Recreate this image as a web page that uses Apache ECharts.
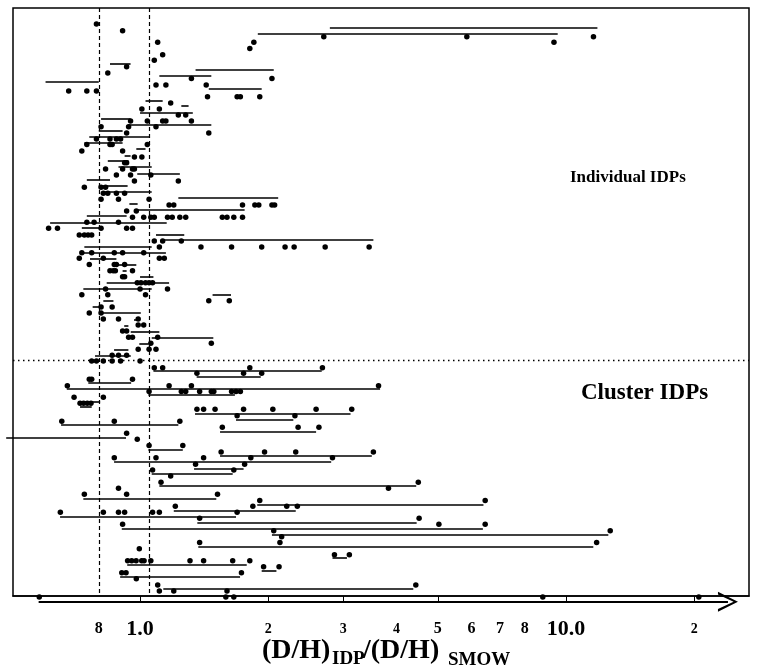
<!DOCTYPE html>
<html><head><meta charset="utf-8">
<script src="https://cdn.jsdelivr.net/npm/echarts@6/dist/echarts.min.js"></script>
<style>html,body{margin:0;padding:0;background:#fff}#c{width:758px;height:671px}</style>
</head><body><div id="c"></div>
<script>
// ---- data: rows are particle positions (top = 0), x = (D/H)IDP/(D/H)SMOW ----
const indivDots = [
  [2.67,[0.79]],[3.78,[0.91]],[4.78,[2.70,5.85,11.6]],[5.72,[1.10,1.85,9.37]],[6.75,[1.81]],
  [7.78,[1.13]],[8.72,[1.08]],[9.78,[0.93]],[10.83,[0.84]],[11.75,[1.32,2.04]],
  [12.83,[1.09,1.15,1.43]],[13.83,[0.68,0.75,0.79]],[14.78,[1.44,1.69,1.72,1.91]],[15.83,[1.18]],
  [16.83,[1.01,1.11]],[17.83,[1.23,1.28]],[18.83,[0.95,1.04,1.13,1.15,1.32]],[19.8,[0.81,0.94,1.09]],
  [20.83,[0.93,1.45]],[21.83,[0.79,0.85,0.88,0.90]],[22.75,[0.75,0.85,0.86,1.04]],[23.83,[0.73,0.91]],
  [24.83,[0.97,1.01]],[25.78,[0.92,0.93]],[26.83,[0.83,0.91,0.96,0.97]],[27.83,[0.88,0.95,1.06]],
  [28.83,[0.97,1.23]],[29.88,[0.74,0.81,0.83]],[30.88,[0.82,0.84,0.88,0.92]],[31.88,[0.81,0.89,1.05]],
  [32.83,[1.17,1.20,1.74,1.86,1.90,2.04,2.07]],[33.83,[0.93,0.98]],
  [34.88,[0.96,1.02,1.06,1.08,1.16,1.19,1.24,1.28,1.56,1.60,1.66,1.74]],[35.72,[0.75,0.78,0.89]],
  [36.72,[0.61,0.64,0.81,0.93,0.96]],[37.83,[0.72,0.74,0.755,0.77]],[38.83,[1.08,1.13,1.25]],
  [39.83,[1.11,1.39,1.64,1.93,2.19,2.30,2.72,3.45]],[40.78,[0.73,0.77,0.87,0.91,1.02]],
  [41.72,[0.72,0.82,1.11,1.14]],[42.75,[0.76,0.87,0.88,0.92]],[43.78,[0.85,0.865,0.875,0.96]],
  [44.78,[0.91,0.92]],[45.78,[0.985,1.005,1.03,1.05,1.07]],[46.83,[0.83,1.00,1.16]],
  [47.78,[0.73,0.84,1.03]],[48.78,[1.45,1.62]],[49.83,[0.81,0.86]],[50.83,[0.76,0.81]],
  [51.83,[0.82,0.89,0.99]],[52.83,[0.99,1.02]],[53.83,[0.91,0.93]],[54.88,[0.94,0.96,1.10]],
  [55.88,[1.06,1.47]],[56.88,[0.99,1.05,1.09]],[57.88,[0.86,0.89,0.93]]
];
const clusterDots = [
  [58.83,[0.77,0.79,0.82,0.86,0.90,1.00]],[59.95,[1.08,1.13,1.81,2.68]],[60.88,[1.36,1.75,1.93]],
  [61.88,[0.76,0.77,0.96]],[62.95,[0.675,1.17,1.32,3.63]],
  [63.92,[1.05,1.25,1.28,1.38,1.47,1.49,1.64,1.68,1.72]],[64.88,[0.70,0.82]],
  [65.88,[0.723,0.737,0.752,0.767]],[66.88,[1.36,1.41,1.50,1.75,2.05,2.59,3.14]],[67.95,[1.69,2.31]],
  [68.88,[0.655,0.87,1.24]],[69.88,[1.56,2.35,2.63]],[70.88,[0.93]],[71.88,[0.985]],
  [72.92,[1.05,1.26]],[74.0,[1.55,1.96,2.32,3.53]],[74.95,[0.87,1.09,1.41,1.82,2.83]],
  [76.05,[1.35,1.76]],[77.0,[1.07,1.66]],[78.0,[1.18]],[79.05,[1.12,4.50]],[80.05,[0.89,3.83]],
  [81.05,[0.74,0.93,1.52]],[82.08,[1.91,6.46]],[83.05,[1.21,1.84,2.21,2.34]],
  [84.05,[0.65,0.82,0.89,0.92,1.07,1.11,1.69]],[85.05,[1.38,4.52]],[86.05,[0.91,5.03,6.46]],
  [87.12,[2.06,12.7]],[88.12,[2.15]],[89.08,[1.38,2.13,11.8]],[90.12,[0.996]],[91.12,[2.86,3.10]],
  [92.12,[0.935,0.956,0.979,1.009,1.022,1.06,1.31,1.41,1.65,1.81]],[93.12,[1.95,2.12]],
  [94.12,[0.906,0.927,1.73]],[95.12,[0.98]],[96.17,[1.10,4.44]],[97.17,[1.11,1.20,1.60]],
  [98.17,[0.58,1.59,1.66,8.82,20.5]]
];
// [row, low, high]
const indivRanges = [
  [3.28,2.79,11.85],[4.22,1.89,9.56],[9.33,0.85,0.95],[10.33,1.35,2.06],[11.33,1.11,1.47],
  [12.33,0.60,0.80],[13.38,1.45,1.93],[15.45,1.03,1.13],[16.33,1.25,1.30],[17.38,1.00,1.33],
  [18.45,0.81,0.95],[19.45,0.94,1.47],[20.45,0.80,0.91],[21.45,0.76,1.05],[22.45,0.74,0.91],
  [23.5,0.98,1.03],[24.55,0.92,0.95],[25.5,0.84,0.94],[26.5,0.89,1.065],[27.55,0.985,1.24],
  [28.58,0.75,0.85],[29.62,0.80,0.935],[30.62,0.82,1.065],[31.62,1.23,2.11],[32.67,0.944,0.987],
  [33.62,0.987,1.76],[34.62,0.75,0.93],[35.72,0.615,1.155],[36.62,0.73,0.806],[37.72,1.09,1.27],
  [38.67,1.13,3.53],[39.72,0.74,1.065],[40.72,0.723,1.15],[41.72,0.763,0.88],[42.72,0.866,0.98],
  [43.78,0.91,0.93],[44.78,1.00,1.075],[45.78,0.835,1.17],[46.83,0.736,1.065],[47.78,1.48,1.635],
  [48.78,0.82,0.866],[49.83,0.774,0.813],[50.83,0.813,1.004],[52.0,0.968,0.996],[52.95,0.918,0.939],
  [53.88,0.951,1.11],[54.95,1.065,1.486],[55.95,0.996,1.046],[57.0,0.869,0.939],[57.95,0.784,0.951]
];
const clusterRanges = [
  [60.45,1.075,2.67],[61.45,1.358,1.92],[62.5,0.756,0.953],[63.5,0.673,3.66],[64.5,1.046,1.67],
  [65.62,0.716,0.806],[66.45,0.723,0.77],[67.55,1.346,3.12],[68.55,1.68,2.29],[69.5,0.6525,1.23],
  [70.62,1.541,2.59],[71.62,0.485,0.927],[73.67,1.046,1.26],[74.67,1.541,3.50],[75.67,0.869,2.81],
  [76.72,1.339,1.75],[77.67,1.065,1.65],[79.63,1.11,4.45],[81.78,0.736,1.51],[82.75,1.884,6.40],
  [83.78,1.20,2.32],[84.78,0.649,1.68],[85.75,1.363,4.46],[86.75,0.906,6.38],[87.8,2.04,12.57],
  [89.78,1.37,11.59],[91.55,2.83,3.06],[92.83,0.933,1.78],[93.83,1.93,2.09],[94.78,0.898,1.717],
  [96.83,1.134,4.38]
];
const arrowRange = [98.95, 0.578, 24.0];
const refLines = [0.797, 1.05];
const groupDivider = 58.67;
const tickValues = [1, 2, 3, 5, 10, 20];
const labelValues = [0.8, 1, 2, 3, 4, 5, 6, 7, 8, 10, 20];
const labelTexts = ['8', '1.0', '2', '3', '4', '5', '6', '7', '8', '10.0', '2'];
const rowCount = 98;
const xMin = 0.5032, xMax = 26.89;

// ---- styling (kept apart from data) ----
const labelStyleKeys = ['m', 'b', 's', 's', 's', 'm', 'm', 'm', 'm', 'b', 's'];
const serif = "'Liberation Serif','DejaVu Serif',serif";
const chevron = 'path://M5,0 L10,10 L8.6,10 L5,2.2 L1.4,10 L0,10 Z';

const dotData = [];
indivDots.concat(clusterDots).forEach(([r, xs]) => xs.forEach(x => dotData.push([x, r])));
const rangeData = indivRanges.concat(clusterRanges).map(([r, a, b]) => ({ coords: [[a, r], [b, r]] }));

const chart = echarts.init(document.getElementById('c'), null, { renderer: 'canvas' });
chart.setOption({
  animation: false,
  backgroundColor: '#fff',
  grid: { left: 13, right: 9, top: 8, bottom: 75, show: true, borderColor: '#000', borderWidth: 1.5, containLabel: false },
  xAxis: {
    type: 'log', logBase: 10, min: xMin, max: xMax, position: 'bottom',
    splitLine: { show: false },
    axisLine: { show: true, onZero: false, lineStyle: { color: '#000', width: 1.5 } },
    axisTick: { show: true, inside: false, length: 6, customValues: tickValues, lineStyle: { color: '#000', width: 1 } },
    minorTick: { show: false },
    axisLabel: {
      show: true, customValues: labelValues, margin: 33, verticalAlign: 'middle',
      formatter: function (v) {
        let idx = 0, best = Infinity;
        labelValues.forEach((lv, i) => { const d = Math.abs(Math.log(lv) - Math.log(v)); if (d < best) { best = d; idx = i; } });
        return '{' + labelStyleKeys[idx] + '|' + labelTexts[idx] + '}';
      },
      rich: {
        b: { fontFamily: serif, fontWeight: 'bold', fontSize: 22, color: '#000' },
        m: { fontFamily: serif, fontWeight: 'bold', fontSize: 16, color: '#000' },
        s: { fontFamily: serif, fontWeight: 'bold', fontSize: 14, color: '#000' }
      }
    }
  },
  yAxis: { type: 'value', inverse: true, min: 0, max: rowCount, show: false, splitLine: { show: false } },
  series: [
    {
      type: 'lines', coordinateSystem: 'cartesian2d', polyline: false, clip: false, silent: true,
      lineStyle: { color: '#000', width: 1.6, opacity: 1 },
      data: rangeData
    },
    {
      type: 'lines', coordinateSystem: 'cartesian2d', polyline: false, clip: false, silent: true,
      symbol: ['none', chevron], symbolSize: [12, 20],
      lineStyle: { color: '#000', width: 1.8, opacity: 1 },
      data: [{ coords: [[arrowRange[1], arrowRange[0]], [arrowRange[2], arrowRange[0]]] }]
    },
    {
      type: 'scatter', clip: false, silent: true, symbol: 'circle', symbolSize: 5.5,
      itemStyle: { color: '#000', opacity: 1 },
      data: dotData,
      markLine: {
        silent: true, symbol: 'none', label: { show: false },
        data: [
          { xAxis: refLines[0], lineStyle: { color: '#000', type: [4, 3], width: 1.2, opacity: 1 } },
          { xAxis: refLines[1], lineStyle: { color: '#000', type: [4, 3], width: 1.2, opacity: 1 } },
          { yAxis: groupDivider, lineStyle: { color: '#000', type: [1.5, 3.5], width: 1.3, opacity: 1 } }
        ]
      }
    }
  ],
  graphic: [
    { type: 'text', left: 570, top: 169, style: { text: 'Individual IDPs', font: "bold 17px 'Liberation Serif', serif", fill: '#000' } },
    { type: 'text', left: 581, top: 382, style: { text: 'Cluster IDPs', font: "bold 23px 'Liberation Serif', serif", fill: '#000' } },
    { type: 'text', x: 262, y: 650.5, style: { text: '(D/H)', font: "bold 28px 'Liberation Serif', serif", fill: '#000', verticalAlign: 'middle', align: 'left' } },
    { type: 'text', x: 332, y: 659, style: { text: 'IDP', font: "bold 19px 'Liberation Serif', serif", fill: '#000', verticalAlign: 'middle', align: 'left' } },
    { type: 'text', x: 363, y: 650.5, style: { text: '/(D/H)', font: "bold 28px 'Liberation Serif', serif", fill: '#000', verticalAlign: 'middle', align: 'left' } },
    { type: 'text', x: 448, y: 660, style: { text: 'SMOW', font: "bold 19px 'Liberation Serif', serif", fill: '#000', verticalAlign: 'middle', align: 'left' } }
  ]
});
</script></body></html>
